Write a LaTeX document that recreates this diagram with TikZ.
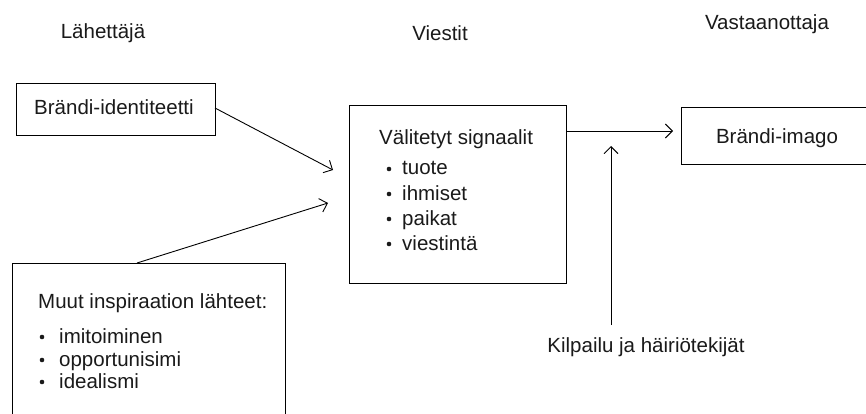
\documentclass[tikz,border=0pt]{standalone}
\usepackage{fontspec}
\setmainfont{Liberation Sans}
\usetikzlibrary{arrows.meta}
\definecolor{txt}{HTML}{1A1A1A}
\tikzset{
  box/.style={draw=black, line width=0.9pt, rectangle, inner sep=0pt},
  lbl/.style={font=\fontsize{20.5}{24}\selectfont, text=txt, inner sep=0pt},
  dot/.style={circle, fill=txt, inner sep=0pt, minimum size=4.6pt},
  conn/.style={draw=black, line width=0.9pt, -{Straight Barb[length=7pt,width=14pt,line width=0.9pt]}},
}
\begin{document}
\begin{tikzpicture}[x=1pt,y=-1pt]
\useasboundingbox (0,0) rectangle (866,414);
\fill[white] (0,0) rectangle (866,414);
% headers
\node[lbl] (h1) at (103,33) {Lähettäjä};
\node[lbl] (h2) at (440,33) {Viestit};
\node[lbl] (h3) at (767,24) {Vastaanottaja};
% boxes
\node[box, minimum width=199pt, minimum height=52pt] (bi) at (115.5,109) {};
\node[lbl, anchor=base] (bit) at (114,115) {Brändi-identiteetti};
\node[box, minimum width=273pt, minimum height=170pt, anchor=north west] (mi) at (12,263) {};
\node[box, minimum width=217pt, minimum height=178pt, anchor=north west] (vs) at (349,105) {};
\node[box, minimum width=200pt, minimum height=57pt, anchor=north west] (im) at (681,107) {};
\node[lbl, anchor=base] (imt) at (777,143) {Brändi-imago};
% texts in Välitetyt
\node[lbl, anchor=base west] (vs0) at (379,145) {Välitetyt signaalit};
\foreach \t/\y/\n in {tuote/175/1, ihmiset/200/2, paikat/225/3, viestintä/250/4}{
  \node[dot] (vsb\n) at (389,\y-6) {};
  \node[lbl, anchor=base west] (vst\n) at (402,\y) {\t};
}
% texts in Muut
\node[lbl, anchor=base west] (mi0) at (38,308) {Muut inspiraation lähteet:};
\foreach \t/\y/\n in {imitoiminen/343/1, opportunisimi/366/2, idealismi/388/3}{
  \node[dot] (mib\n) at (42,\y-6) {};
  \node[lbl, anchor=base west] (mit\n) at (59,\y) {\t};
}
% Kilpailu
\node[lbl, anchor=base] (kh) at (646,352) {Kilpailu ja häiriötekijät};
% connectors
\coordinate (a1s) at (215,108);
\coordinate (a1e) at (333,170);
\coordinate (a2s) at (137,263);
\coordinate (a2e) at (328,203);
\coordinate (a3s) at (566,131);
\coordinate (a3e) at (673,131);
\coordinate (a4s) at (611,325);
\coordinate (a4e) at (611,146);
\draw[conn] (a1s) -- (a1e);
\draw[conn] (a2s) -- (a2e);
\draw[conn] (a3s) -- (a3e);
\draw[conn] (a4s) -- (a4e);
\end{tikzpicture}
\end{document}
